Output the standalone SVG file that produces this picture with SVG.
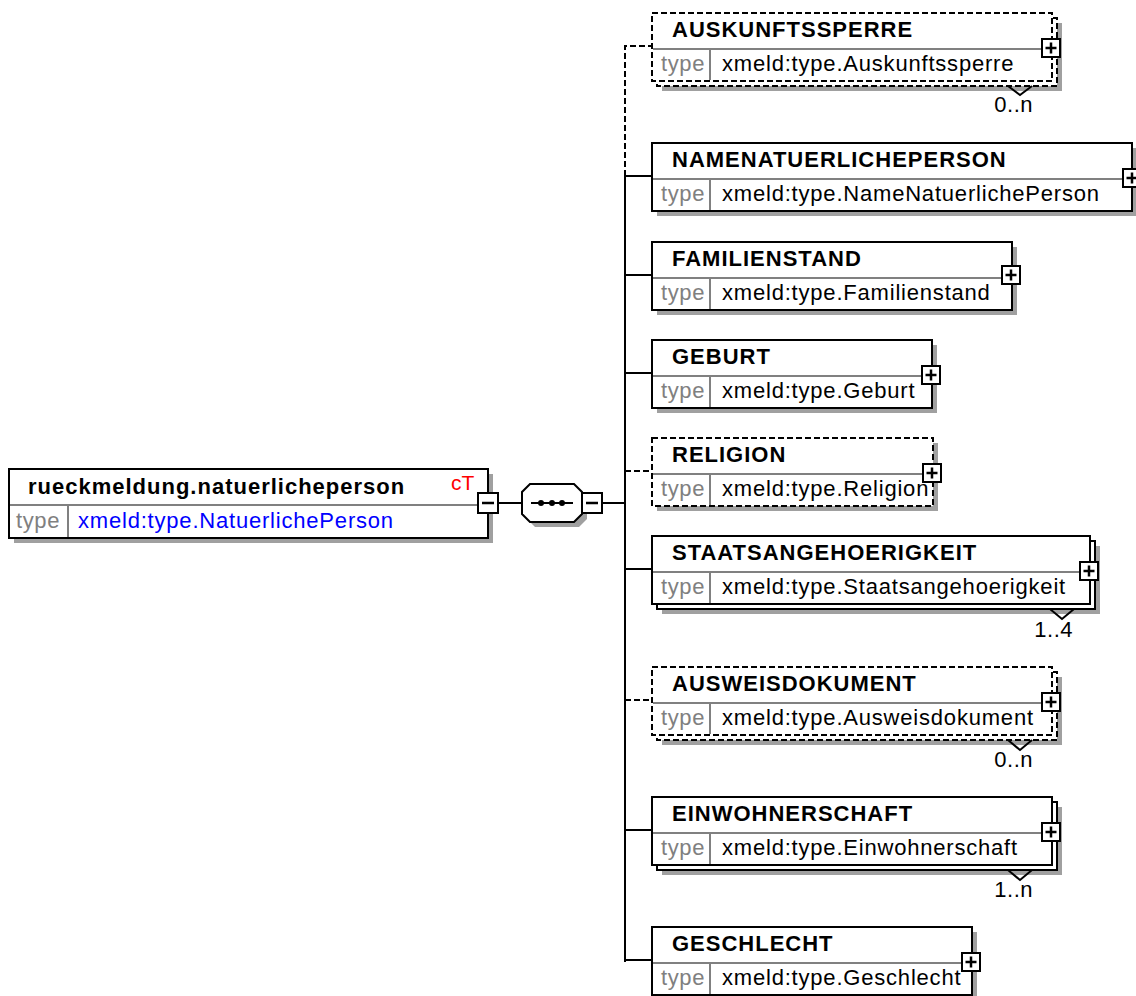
<svg xmlns="http://www.w3.org/2000/svg" width="1136" height="996" viewBox="0 0 1136 996">
<style>
text{font-family:"Liberation Sans",Arial,sans-serif;font-size:22px}
.t{font-weight:bold;fill:#000;letter-spacing:1px}
.ty{fill:#808080;letter-spacing:0.6px}
.v{fill:#000;letter-spacing:0.8px}
.vb{fill:#0000ff;letter-spacing:0.8px}
.ct{fill:#ff0000;font-size:21px}
.m{fill:#000;font-size:22px;text-anchor:end;letter-spacing:0.5px}
.box{fill:#fff;stroke:#000;stroke-width:2}
.dbox{fill:#fff;stroke:#000;stroke-width:2;stroke-dasharray:6,3}
.sh{fill:#a0a0a0;stroke:none}
.dv{stroke:#808080;stroke-width:2;fill:none}
.ln{stroke:#000;stroke-width:2;fill:none}
.pl{stroke:#000;stroke-width:2.5;fill:none}
.dl{stroke:#000;stroke-width:2;fill:none;stroke-dasharray:6,3}
.pm{fill:#fff;stroke:#000;stroke-width:2}
</style>
<defs>
<g id="plus"><rect class="pm" x="-9" y="-9" width="18" height="18"/><path class="pl" d="M-5.5,0H5.5M0,-5.5V5.5"/></g>
<g id="minus"><rect class="pm" x="-10" y="-10" width="20" height="20"/><path class="pl" d="M-6,0H6"/></g>
</defs>

<g id="connectors">
<path class="ln" d="M498,503H522M602,503H625M625,176V962"/>
<path class="dl" d="M625,176V46H652"/>
<path class="ln" d="M625,176H652M625,275H652M625,373H652M625,569H652M625,830H652M625,960H652"/>
<path class="dl" d="M625,471H652M625,700H652"/>
</g>

<g id="root">
<rect class="sh" x="14" y="474" width="479" height="69"/>
<rect class="box" x="9" y="469" width="479" height="69"/>
<path class="dv" d="M10,505H487M68,505V537"/>
<text class="t" x="28" y="494">rueckmeldung.natuerlicheperson</text>
<text class="ct" x="451" y="490">cT</text>
<text class="ty" x="16" y="528">type</text>
<text class="vb" x="78" y="528">xmeld:type.NatuerlichePerson</text>
<use href="#minus" x="488" y="503"/>
</g>

<g id="sequence">
<polygon class="sh" points="535,489 579,489 587,497 587,519 579,527 535,527 527,519 527,497"/>
<polygon class="box" points="530,484 574,484 582,492 582,514 574,522 530,522 522,514 522,492"/>
<path class="ln" d="M531,503H573"/>
<circle cx="541" cy="503" r="3"/><circle cx="552" cy="503" r="3"/><circle cx="562" cy="503" r="3"/>
<use href="#minus" x="592" y="503"/>
</g>

<g id="AUSKUNFTSSPERRE">
<rect class="sh" x="662" y="23" width="400" height="68"/>
<rect class="dbox" x="657" y="18" width="400" height="68"/>
<rect class="dbox" x="652" y="13" width="400" height="68"/>
<path class="dv" d="M653,49H1051M710,49V80"/>
<text class="t" x="672" y="37">AUSKUNFTSSPERRE</text>
<text class="ty" x="661" y="71">type</text>
<text class="v" x="722" y="71">xmeld:type.Auskunftssperre</text>
<use href="#plus" x="1051" y="48"/>
<path class="ln" d="M1008,86L1020,95L1032,86"/>
<text class="m" x="1033" y="112">0..n</text>
</g>

<g id="NAMENATUERLICHEPERSON">
<rect class="sh" x="657" y="148" width="480" height="68"/>
<rect class="box" x="652" y="143" width="480" height="68"/>
<path class="dv" d="M653,179H1131M710,179V210"/>
<text class="t" x="672" y="167">NAMENATUERLICHEPERSON</text>
<text class="ty" x="661" y="201">type</text>
<text class="v" x="722" y="201">xmeld:type.NameNatuerlichePerson</text>
<use href="#plus" x="1132" y="178"/>
</g>

<g id="FAMILIENSTAND">
<rect class="sh" x="657" y="247" width="360" height="68"/>
<rect class="box" x="652" y="242" width="360" height="68"/>
<path class="dv" d="M653,278H1011M710,278V309"/>
<text class="t" x="672" y="266">FAMILIENSTAND</text>
<text class="ty" x="661" y="300">type</text>
<text class="v" x="722" y="300">xmeld:type.Familienstand</text>
<use href="#plus" x="1011" y="275"/>
</g>

<g id="GEBURT">
<rect class="sh" x="657" y="345" width="280" height="68"/>
<rect class="box" x="652" y="340" width="280" height="68"/>
<path class="dv" d="M653,376H931M710,376V407"/>
<text class="t" x="672" y="364">GEBURT</text>
<text class="ty" x="661" y="398">type</text>
<text class="v" x="722" y="398">xmeld:type.Geburt</text>
<use href="#plus" x="931" y="375"/>
</g>

<g id="RELIGION">
<rect class="sh" x="657" y="443" width="281" height="68"/>
<rect class="dbox" x="652" y="438" width="281" height="68"/>
<path class="dv" d="M653,474H932M710,474V505"/>
<text class="t" x="672" y="462">RELIGION</text>
<text class="ty" x="661" y="496">type</text>
<text class="v" x="722" y="496">xmeld:type.Religion</text>
<use href="#plus" x="932" y="473"/>
</g>

<g id="STAATSANGEHOERIGKEIT">
<rect class="sh" x="662" y="546" width="438" height="68"/>
<rect class="box" x="657" y="541" width="438" height="68"/>
<rect class="box" x="652" y="536" width="438" height="68"/>
<path class="dv" d="M653,572H1089M710,572V603"/>
<text class="t" x="672" y="560">STAATSANGEHOERIGKEIT</text>
<text class="ty" x="661" y="594">type</text>
<text class="v" x="722" y="594">xmeld:type.Staatsangehoerigkeit</text>
<use href="#plus" x="1089" y="571"/>
<path class="ln" d="M1050,609L1062,619L1074,609"/>
<text class="m" x="1073" y="637">1..4</text>
</g>

<g id="AUSWEISDOKUMENT">
<rect class="sh" x="662" y="677" width="400" height="68"/>
<rect class="dbox" x="657" y="672" width="400" height="68"/>
<rect class="dbox" x="652" y="667" width="400" height="68"/>
<path class="dv" d="M653,703H1051M710,703V734"/>
<text class="t" x="672" y="691">AUSWEISDOKUMENT</text>
<text class="ty" x="661" y="725">type</text>
<text class="v" x="722" y="725">xmeld:type.Ausweisdokument</text>
<use href="#plus" x="1051" y="702"/>
<path class="ln" d="M1008,740L1020,750L1032,740"/>
<text class="m" x="1033" y="767">0..n</text>
</g>

<g id="EINWOHNERSCHAFT">
<rect class="sh" x="662" y="807" width="400" height="68"/>
<rect class="box" x="657" y="802" width="400" height="68"/>
<rect class="box" x="652" y="797" width="400" height="68"/>
<path class="dv" d="M653,833H1051M710,833V864"/>
<text class="t" x="672" y="821">EINWOHNERSCHAFT</text>
<text class="ty" x="661" y="855">type</text>
<text class="v" x="722" y="855">xmeld:type.Einwohnerschaft</text>
<use href="#plus" x="1051" y="832"/>
<path class="ln" d="M1008,870L1020,880L1032,870"/>
<text class="m" x="1033" y="897">1..n</text>
</g>

<g id="GESCHLECHT">
<rect class="sh" x="657" y="932" width="320" height="68"/>
<rect class="box" x="652" y="927" width="320" height="68"/>
<path class="dv" d="M653,963H971M710,963V994"/>
<text class="t" x="672" y="951">GESCHLECHT</text>
<text class="ty" x="661" y="985">type</text>
<text class="v" x="722" y="985">xmeld:type.Geschlecht</text>
<use href="#plus" x="971" y="962"/>
</g>
</svg>
